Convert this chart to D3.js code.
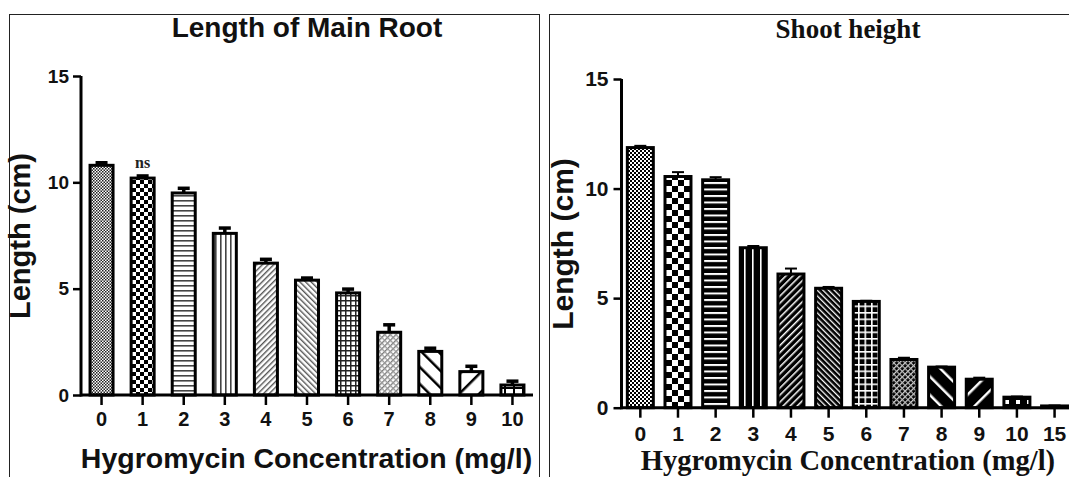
<!DOCTYPE html>
<html><head><meta charset="utf-8">
<script src="https://cdn.jsdelivr.net/npm/d3@7"></script>
<style>body{margin:0;background:#fff;}svg{display:block;}</style>
</head><body>
<svg id="c" width="1069" height="477"></svg>
<script>
// ---- data ----
const rootCats = ["0","1","2","3","4","5","6","7","8","9","10"];
const rootVals = [10.8, 10.2, 9.5, 7.6, 6.2, 5.4, 4.8, 2.95, 2.05, 1.1, 0.47];
const rootErr  = [0.12, 0.1, 0.22, 0.25, 0.18, 0.1, 0.18, 0.35, 0.15, 0.25, 0.18];
const shootCats = ["0","1","2","3","4","5","6","7","8","9","10","15"];
const shootVals = [11.87, 10.55, 10.4, 7.3, 6.1, 5.45, 4.85, 2.2, 1.85, 1.3, 0.48, 0.08];
const shootErr  = [0.08, 0.2, 0.12, 0.08, 0.25, 0.06, 0.03, 0.08, 0.03, 0.07, 0.03, 0.02];
const yTicks = [0, 5, 10, 15];

const svg = d3.select("#c");
const defs = svg.append("defs");

function pat(id, size, bg, draw, rot) {
  const p = defs.append("pattern").attr("id", id).attr("patternUnits","userSpaceOnUse")
    .attr("width", size).attr("height", size);
  if (rot) p.attr("patternTransform", "rotate(" + rot + ")");
  p.append("rect").attr("width", size).attr("height", size).attr("fill", bg);
  draw(p);
}
const rect = (p,x,y,w,h,c)=>p.append("rect").attr("x",x).attr("y",y).attr("width",w).attr("height",h).attr("fill",c);

// left (black on white)
pat("L0",3,"#fff",p=>{rect(p,0,0,1.5,1.5,"#222");rect(p,1.5,1.5,1.5,1.5,"#222");});
pat("L1",8,"#fff",p=>{rect(p,0,0,4,4,"#000");rect(p,4,4,4,4,"#000");});
pat("L2",5,"#fff",p=>{rect(p,0,0,5,1.6,"#444");});
pat("L3",5,"#fff",p=>{rect(p,0,0,1.6,5,"#444");});
pat("L4",4,"#fff",p=>{rect(p,0,0,1.4,4,"#555");},45);
pat("L5",4,"#fff",p=>{rect(p,0,0,1.4,4,"#555");},-45);
pat("L6",5,"#fff",p=>{rect(p,0,0,5,1.5,"#222");rect(p,0,0,1.5,5,"#222");});
pat("L7",4,"#fff",p=>{rect(p,0,0,1.3,4,"#777");rect(p,0,0,4,1.3,"#999");},45);
pat("L8",12,"#fff",p=>{rect(p,0,0,2.5,12,"#000");},-45);
pat("L9",14,"#fff",p=>{rect(p,0,0,2.5,14,"#000");},45);
pat("L10",9,"#fff",p=>{rect(p,0,0,9,2,"#000");rect(p,0,0,2,9,"#000");});
// right (white on black)
pat("R0",4,"#000",p=>{rect(p,0,0,2,2,"#fff");rect(p,2,2,2,2,"#fff");});
pat("R1",12,"#000",p=>{rect(p,0,0,6,6,"#fff");rect(p,6,6,6,6,"#fff");});
pat("R2",6.5,"#000",p=>{rect(p,0,0,6.5,2,"#fff");});
pat("R3",8,"#000",p=>{rect(p,0,0,1.6,8,"#fff");});
pat("R4",5,"#000",p=>{rect(p,0,0,1.5,5,"#fff");},45);
pat("R5",4,"#000",p=>{rect(p,0,0,1.3,4,"#fff");},-45);
pat("R6",6.5,"#000",p=>{rect(p,0,0,6.5,1.6,"#fff");rect(p,0,0,1.6,6.5,"#fff");});
pat("R7",4,"#000",p=>{rect(p,0,0,1.2,4,"#ddd");rect(p,0,0,4,1.2,"#bbb");},45);
pat("R8",13,"#000",p=>{rect(p,0,0,2.5,13,"#fff");},-45);
pat("R9",13,"#000",p=>{rect(p,0,0,2.5,13,"#fff");},45);
pat("R10",11,"#000",p=>{rect(p,4,4,4,4,"#fff");});
pat("R11",8,"#000",p=>{});

// panel borders
svg.append("rect").attr("x",9.5).attr("y",14.5).attr("width",530).attr("height",480)
  .attr("fill","none").attr("stroke","#222").attr("stroke-width",1);
svg.append("rect").attr("x",549.5).attr("y",14.5).attr("width",540).attr("height",480)
  .attr("fill","none").attr("stroke","#222").attr("stroke-width",1);

function panel(o) {
  const g = svg.append("g");
  const x = d3.scaleBand(o.cats, o.xr).paddingInner(o.pad).paddingOuter(o.pad/2);
  const y = d3.scaleLinear([0,15], o.yr);
  g.selectAll("rect.bar").data(o.vals).join("rect").attr("class","bar")
    .attr("x",(d,i)=>x(o.cats[i])).attr("width",x.bandwidth())
    .attr("y",d=>y(d)).attr("height",d=>y(0)-y(d))
    .attr("fill",(d,i)=>"url(#"+o.pfx+i+")")
    .attr("stroke","#000").attr("stroke-width",o.bw);
  const eg = g.selectAll("g.err").data(o.vals).join("g").attr("class","err");
  eg.append("line").attr("x1",(d,i)=>x(o.cats[i])+x.bandwidth()/2).attr("x2",(d,i)=>x(o.cats[i])+x.bandwidth()/2)
    .attr("y1",d=>y(d)).attr("y2",(d,i)=>y(d+o.err[i])).attr("stroke","#000").attr("stroke-width",o.ew);
  eg.append("line").attr("x1",(d,i)=>x(o.cats[i])+x.bandwidth()/2-o.cap/2).attr("x2",(d,i)=>x(o.cats[i])+x.bandwidth()/2+o.cap/2)
    .attr("y1",(d,i)=>y(d+o.err[i])).attr("y2",(d,i)=>y(d+o.err[i])).attr("stroke","#000").attr("stroke-width",o.ew);
  const ya = g.append("g").attr("transform","translate("+o.xr[0]+",0)")
    .call(d3.axisLeft(y).tickValues(yTicks).tickSize(8).tickSizeOuter(0).tickPadding(o.ytp));
  const xa = g.append("g").attr("transform","translate(0,"+y(0)+")")
    .call(d3.axisBottom(x).tickSize(10).tickSizeOuter(0).tickPadding(o.xtp));
  [ya,xa].forEach(a=>{
    a.select(".domain").attr("stroke","#000").attr("stroke-width",o.aw);
    a.selectAll(".tick line").attr("stroke","#000").attr("stroke-width",o.aw-0.5);
    a.selectAll(".tick text").attr("fill","#111").attr("font-family","Liberation Sans, Arial, sans-serif")
      .attr("font-weight","bold");
  });
  ya.selectAll(".tick text").attr("font-size",o.yfs);
  xa.selectAll(".tick text").attr("font-size",o.xfs);
  ya.select(".domain").attr("d","M0,"+(y(15))+"V"+(y(0)+1.5));
  xa.select(".domain").attr("d","M"+o.xr[0]+",0H"+o.xend);
  g.append("text").attr("x",o.tx).attr("y",o.ty).attr("text-anchor","middle")
    .attr("font-family",o.tfont).attr("font-weight","bold").attr("font-size",o.tfs).attr("fill","#111").text(o.title);
  g.append("text").attr("x",o.xtx).attr("y",o.xty).attr("text-anchor","middle")
    .attr("font-family",o.xtfont).attr("font-weight","bold").attr("font-size",o.xtfs).attr("fill","#111")
    .text("Hygromycin Concentration (mg/l)");
  g.append("text").attr("transform","translate("+o.ylx+","+o.yly+") rotate(-90)").attr("text-anchor","middle")
    .attr("font-family","Liberation Sans, Arial, sans-serif").attr("font-weight","bold").attr("font-size",o.ylfs)
    .attr("fill","#111").text("Length (cm)");
  return {x,y,g};
}

const L = panel({cats:rootCats, vals:rootVals, err:rootErr, xr:[81,533], xend:533, yr:[395,76], pad:0.44,
  pfx:"L", bw:3, ew:3.5, cap:12, aw:3, ytp:4, xtp:7, yfs:19, xfs:20,
  title:"Length of Main Root", tx:307, ty:37, tfs:28, tfont:"Liberation Sans, Arial, sans-serif",
  xtx:306.5, xty:468, xtfs:28.5, xtfont:"Liberation Sans, Arial, sans-serif",
  ylx:30, yly:236, ylfs:29});
L.g.append("text").attr("x",L.x("1")+L.x.bandwidth()/2).attr("y",L.y(rootVals[1]+rootErr[1])-8)
  .attr("text-anchor","middle").attr("font-family","Liberation Serif, Times New Roman, serif")
  .attr("font-weight","bold").attr("font-size",16).attr("fill","#222").text("ns");

panel({cats:shootCats, vals:shootVals, err:shootErr, xr:[621.5,1073.4], xend:1069, yr:[407.7,79], pad:0.31,
  pfx:"R", bw:3, ew:2, cap:12, aw:3, ytp:5, xtp:8, yfs:21, xfs:21,
  title:"Shoot height", tx:848, ty:38, tfs:27, tfont:"Liberation Serif, Times New Roman, serif",
  xtx:848, xty:470, xtfs:28.5, xtfont:"Liberation Serif, Times New Roman, serif",
  ylx:573, yly:244, ylfs:30});
</script>
</body></html>
